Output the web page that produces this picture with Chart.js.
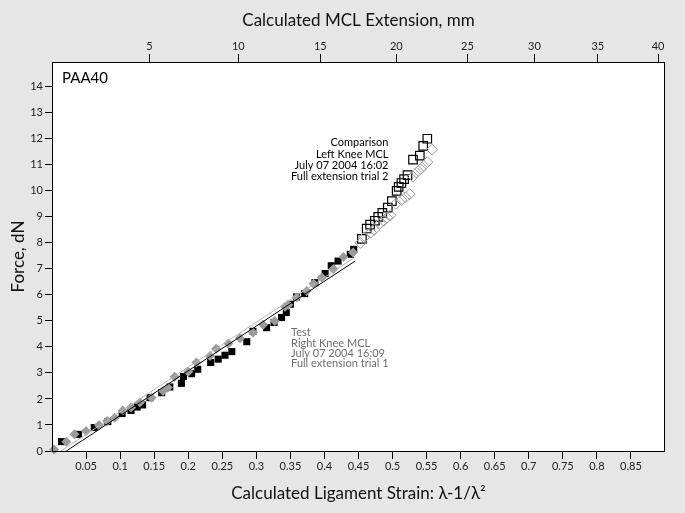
<!DOCTYPE html>
<html>
<head>
<meta charset="utf-8">
<script src="https://cdn.jsdelivr.net/npm/chart.js@4/dist/chart.umd.min.js"></script>
<style>
  html, body { margin: 0; padding: 0; background: #e6e6e6; }
</style>
</head>
<body>
<canvas id="grafico" width="685" height="513"></canvas>
<script>
// Teste - quadrados pretos (strain x força)
const testeStrain = [0.014, 0.039, 0.062, 0.082, 0.103, 0.116, 0.125, 0.133, 0.144, 0.161, 0.173, 0.19, 0.193, 0.205, 0.214, 0.233, 0.244, 0.254, 0.264, 0.286, 0.295, 0.315, 0.326, 0.337, 0.344, 0.35, 0.359, 0.371, 0.386, 0.401, 0.41, 0.42, 0.438, 0.443];
const testeForca = [0.36, 0.64, 0.9, 1.13, 1.44, 1.56, 1.69, 1.77, 2.05, 2.24, 2.46, 2.6, 2.86, 2.97, 3.14, 3.4, 3.53, 3.68, 3.82, 4.2, 4.6, 4.74, 4.94, 5.13, 5.32, 5.64, 5.92, 6.05, 6.47, 6.82, 7.12, 7.3, 7.56, 7.75];

// Teste - losangos cinza
const testeCinzaStrain = [0.003, 0.021, 0.033, 0.05, 0.069, 0.081, 0.092, 0.104, 0.116, 0.129, 0.146, 0.163, 0.17, 0.18, 0.2, 0.212, 0.232, 0.241, 0.259, 0.276, 0.295, 0.31, 0.327, 0.342, 0.347, 0.359, 0.374, 0.384, 0.396, 0.413, 0.428, 0.442];
const testeCinzaForca = [0.06, 0.36, 0.64, 0.77, 1.0, 1.15, 1.28, 1.56, 1.67, 1.86, 2.05, 2.31, 2.44, 2.85, 3.05, 3.4, 3.65, 3.93, 4.13, 4.33, 4.55, 4.85, 5.0, 5.54, 5.62, 5.9, 6.15, 6.43, 6.67, 6.99, 7.46, 7.63];

// Comparação - quadrados vazados
const compStrain = [0.455, 0.462, 0.467, 0.474, 0.479, 0.485, 0.493, 0.499, 0.506, 0.509, 0.513, 0.517, 0.522, 0.53, 0.54, 0.545, 0.551];
const compForca = [8.15, 8.55, 8.7, 8.85, 9.0, 9.15, 9.35, 9.6, 10.0, 10.15, 10.3, 10.45, 10.6, 11.2, 11.35, 11.73, 12.0];

// Comparação - losangos vazados cinza
const compCinzaStrain = [0.453, 0.458, 0.468, 0.473, 0.482, 0.487, 0.492, 0.497, 0.505, 0.513, 0.519, 0.525, 0.53, 0.535, 0.541, 0.546, 0.551, 0.558];
const compCinzaForca = [8.0, 8.2, 8.4, 8.5, 8.75, 8.85, 8.97, 9.06, 9.5, 9.65, 9.75, 9.87, 10.55, 10.7, 10.83, 10.96, 11.1, 11.58];

// Retas de ajuste
const ajustePretoX = [0.021, 0.445];
const ajustePretoY = [0, 7.3];
const ajusteCinzaX = [0.013, 0.445];
const ajusteCinzaY = [0, 7.45];

// Marcas dos eixos
const strainTicks = [0.05, 0.1, 0.15, 0.2, 0.25, 0.3, 0.35, 0.4, 0.45, 0.5, 0.55, 0.6, 0.65, 0.7, 0.75, 0.8, 0.85];
const forcaTicks = [0, 1, 2, 3, 4, 5, 6, 7, 8, 9, 10, 11, 12, 13, 14];
const extensaoTicks = [5, 10, 15, 20, 25, 30, 35, 40];
const comprimentoInicial = 100; // mm

const textoComparacao = ['Comparison', 'Left Knee MCL', 'July 07 2004 16:02', 'Full extension trial 2'];
const textoTeste = ['Test', 'Right Knee MCL', 'July 07 2004 16:09', 'Full extension trial 1'];

const fonte = 'Lato, "Open Sans", sans-serif';

// converte extensão (mm) em strain λ-1/λ²
function strainDeExtensao(e) {
  const l = 1 + e / comprimentoInicial;
  return l - 1 / (l * l);
}

function pontos(xs, ys) {
  return xs.map((x, i) => ({ x: x, y: ys[i] }));
}

// fundo cinza, área branca, moldura e textos
const moldura = {
  id: 'moldura',
  beforeDraw(chart) {
    const { ctx, chartArea: a } = chart;
    ctx.save();
    ctx.fillStyle = '#e6e6e6';
    ctx.fillRect(0, 0, chart.width, chart.height);
    ctx.fillStyle = '#fff';
    ctx.fillRect(a.left, a.top, a.right - a.left, a.bottom - a.top);
    ctx.restore();
  },
  afterDraw(chart) {
    const { ctx, chartArea: a, scales } = chart;
    ctx.save();
    ctx.strokeStyle = '#000';
    ctx.lineWidth = 1;
    ctx.strokeRect(a.left + 0.5, a.top + 0.5, a.right - a.left - 1, a.bottom - a.top);

    ctx.fillStyle = '#000';
    ctx.font = '15px ' + fonte;
    ctx.textBaseline = 'middle';
    ctx.textAlign = 'left';
    ctx.fillText('PAA40', a.left + 10, a.top + 16);

    ctx.font = '11px ' + fonte;
    ctx.textAlign = 'right';
    let x = scales.x.getPixelForValue(0.494);
    let y = scales.y.getPixelForValue(11.85);
    textoComparacao.forEach((t, i) => ctx.fillText(t, x, y + i * 11.3));

    ctx.fillStyle = '#6e6e6e';
    ctx.textAlign = 'left';
    x = scales.x.getPixelForValue(0.351);
    y = scales.y.getPixelForValue(4.54);
    textoTeste.forEach((t, i) => ctx.fillText(t, x, y + i * 10.3));
    ctx.restore();
  }
};

const gradeEixo = { drawOnChartArea: false, drawTicks: true, tickLength: 8, color: '#000', lineWidth: 1 };

new Chart(document.getElementById('grafico'), {
  type: 'scatter',
  data: {
    datasets: [
      {
        label: 'Ajuste preto', data: pontos(ajustePretoX, ajustePretoY), showLine: true,
        borderColor: '#000', borderWidth: 1, pointRadius: 0, order: 0
      },
      {
        label: 'Ajuste cinza', data: pontos(ajusteCinzaX, ajusteCinzaY), showLine: true,
        borderColor: '#b5b5b5', borderWidth: 1, pointRadius: 0, order: 1
      },
      {
        label: 'Teste cinza', data: pontos(testeCinzaStrain, testeCinzaForca), pointStyle: 'rectRot',
        pointRadius: 5, backgroundColor: '#9b9b9b', borderColor: '#9b9b9b', borderWidth: 0, clip: false, order: 2
      },
      {
        label: 'Teste', data: pontos(testeStrain, testeForca), pointStyle: 'rect',
        pointRadius: 5, backgroundColor: '#000', borderColor: '#000', borderWidth: 0, clip: false, order: 3
      },
      {
        label: 'Comparação cinza', data: pontos(compCinzaStrain, compCinzaForca), pointStyle: 'rectRot',
        pointRadius: 5.5, backgroundColor: 'rgba(0,0,0,0)', borderColor: '#999', borderWidth: 1, order: 4
      },
      {
        label: 'Comparação', data: pontos(compStrain, compForca), pointStyle: 'rect',
        pointRadius: 6, backgroundColor: 'rgba(0,0,0,0)', borderColor: '#000', borderWidth: 1.2, order: 5
      }
    ]
  },
  options: {
    responsive: false,
    animation: false,
    events: [],
    layout: { padding: { left: 0, right: 20, top: 0, bottom: 0 } },
    plugins: { legend: { display: false }, tooltip: { enabled: false } },
    scales: {
      x: {
        type: 'linear', position: 'bottom', min: 0, max: 0.9,
        afterBuildTicks: s => { s.ticks = strainTicks.map(v => ({ value: v })); },
        afterFit: s => { s.height = 62; },
        grid: gradeEixo,
        border: { display: false },
        ticks: {
          padding: 1, color: '#222', font: { family: fonte, size: 11 },
          maxRotation: 0, autoSkip: false,
          callback: v => String(Math.round(v * 100) / 100)
        },
        title: {
          display: true, text: 'Calculated Ligament Strain: λ-1/λ²', color: '#111',
          font: { family: fonte, size: 17 }, padding: { top: 0, bottom: 9 }
        }
      },
      x2: {
        type: 'linear', position: 'top', min: 0, max: 0.9,
        afterBuildTicks: s => { s.ticks = extensaoTicks.map(e => ({ value: strainDeExtensao(e) })); },
        afterFit: s => { s.height = 62; },
        grid: gradeEixo,
        border: { display: false },
        ticks: {
          padding: 1, color: '#222', font: { family: fonte, size: 11 },
          maxRotation: 0, autoSkip: false,
          callback: (v, i) => String(extensaoTicks[i])
        },
        title: {
          display: true, text: 'Calculated MCL Extension, mm', color: '#111',
          font: { family: fonte, size: 17 }, padding: { top: 10, bottom: 0 }
        }
      },
      y: {
        type: 'linear', position: 'left', min: 0, max: 14.95,
        afterBuildTicks: s => { s.ticks = forcaTicks.map(v => ({ value: v })); },
        afterFit: s => { s.width = 52; },
        grid: { drawOnChartArea: false, drawTicks: true, tickLength: 7, color: '#000', lineWidth: 1 },
        border: { display: false },
        ticks: {
          padding: 2, color: '#222', font: { family: fonte, size: 11 }, autoSkip: false,
          callback: v => String(v)
        },
        title: {
          display: true, text: 'Force, dN', color: '#111',
          font: { family: fonte, size: 17 }, padding: { top: 8, bottom: 0 }
        }
      }
    }
  },
  plugins: [moldura]
});
</script>
</body>
</html>
